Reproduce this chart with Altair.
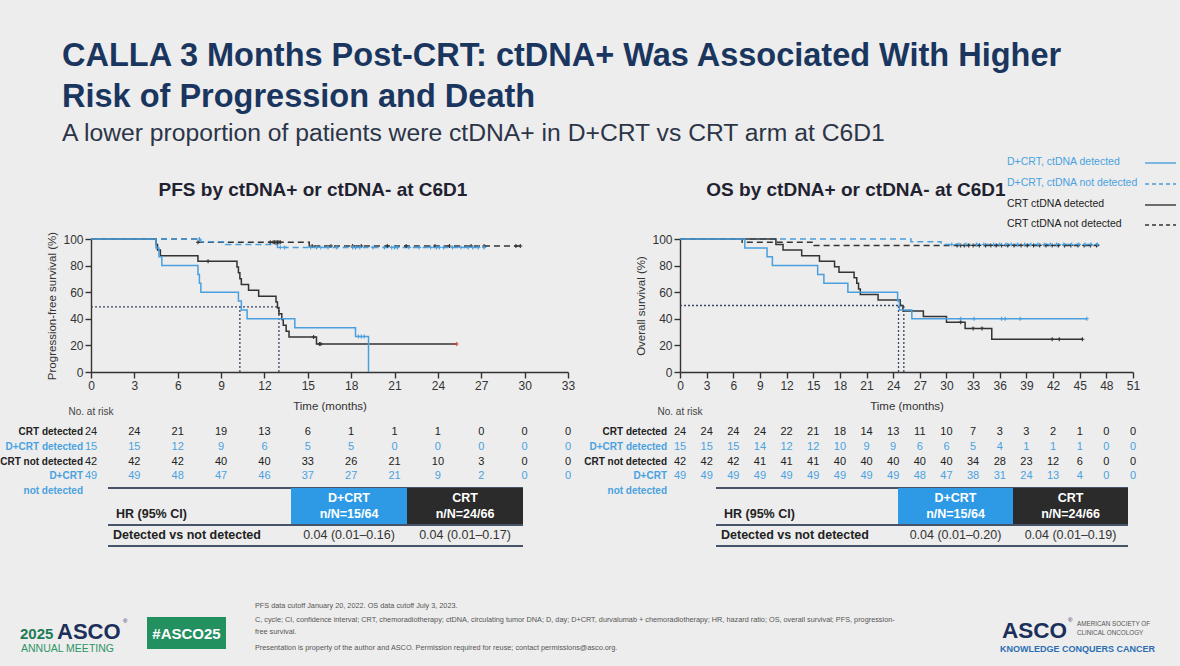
import altair as alt
import pandas as pd

W, H = 1180, 666
BG = "#ededed"
FONT = "Liberation Sans"
BLUE = "#4a9fdf"
BLUE_TXT = "#4aa2e0"
BLACK = "#333333"
NAVY = "#1a365f"
Y0, Y100 = 372, 239

# ---------------- data ----------------
PFS_TICKS = [0, 3, 6, 9, 12, 15, 18, 21, 24, 27, 30, 33]
OS_TICKS = [0, 3, 6, 9, 12, 15, 18, 21, 24, 27, 30, 33, 36, 39, 42, 45, 48, 51]
Y_TICKS = [0, 20, 40, 60, 80, 100]

# PFS curves (time in months, survival %)
pfs_crt_det_t = [0, 4.5, 4.6, 4.8, 7.4, 10.1, 10.2, 10.3, 10.4, 10.9, 11.6, 12.8, 12.9, 13.0, 13.2, 13.3, 13.5, 13.7, 15.6, 25.3]
pfs_crt_det_s = [100, 95.8, 91.7, 87.5, 83.3, 78.9, 74.6, 70.2, 65.8, 61.4, 57.0, 52.6, 48.2, 43.8, 39.5, 35.1, 30.7, 26.3, 21.0, 21.0]
pfs_dcrt_det_t = [0, 4.5, 4.7, 4.9, 7.4, 7.5, 7.6, 10.2, 10.4, 10.8, 14.1, 18.3, 19.2]
pfs_dcrt_det_s = [100, 93.3, 86.7, 80.0, 73.3, 66.7, 60.0, 53.3, 46.7, 40.0, 33.3, 26.7, 0]
pfs_crt_nd_t = [0, 7.3, 15.1, 29.8]
pfs_crt_nd_s = [100, 97.6, 94.7, 94.7]
pfs_dcrt_nd_t = [0, 7.6, 9.3, 12.9, 27.2]
pfs_dcrt_nd_s = [100, 97.9, 95.8, 93.7, 93.7]

pfs_crt_det_cens = [8.1, 15.4, 15.8, 15.9]
pfs_crt_det_last = [25.3]
pfs_dcrt_det_cens = [18.5, 18.7, 18.9]
pfs_crt_nd_cens = [7.4, 12.4, 12.6, 12.7, 12.8, 12.9, 13.0, 13.1, 15.3, 16.6, 18.1, 18.7, 20.5,
                   21.8, 23.8, 24.8, 26.3, 27.2, 29.4, 29.7]
pfs_dcrt_nd_cens = [7.5, 13.1, 13.4, 15.2, 15.6, 15.9, 16.4, 17.0, 18.1, 18.3, 18.6, 19.5, 20.3, 20.8,
                    21.0, 21.2, 22.0, 22.7, 23.5, 23.9, 24.1, 24.4, 25.0, 25.6, 26.1, 26.4, 26.8, 27.2]

# OS curves
os_crt_det_t = [0, 10.8, 11.6, 13.7, 15.7, 17.4, 17.9, 19.6, 19.9, 20.1, 20.3, 22.3, 24.8, 25.1, 27.4, 30.0, 32.1, 35.1, 45.3]
os_crt_det_s = [100, 95.8, 91.7, 87.5, 83.3, 79.2, 75.0, 70.8, 66.7, 62.5, 58.3, 54.2, 50.0, 45.8, 41.7, 37.5, 32.8, 24.6, 24.6]
os_dcrt_det_t = [0, 7.3, 9.8, 10.4, 15.5, 16.2, 18.9, 24.5, 24.7, 26.1, 45.8]
os_dcrt_det_s = [100, 93.3, 86.7, 80.0, 73.3, 66.7, 60.0, 53.3, 46.7, 40.0, 40.0]
os_crt_nd_t = [0, 7.0, 15.1, 47.2]
os_crt_nd_s = [100, 97.6, 95.2, 95.2]
os_dcrt_nd_t = [0, 26.0, 29.4, 47.1]
os_dcrt_nd_s = [100, 98.0, 95.9, 95.9]

os_crt_det_cens = [31.6, 33.0, 34.0, 41.9, 42.7, 45.3]
os_dcrt_det_cens = [31.6, 33.1, 36.2, 36.6, 38.3, 45.8]
os_crt_nd_cens = [31.2, 31.6, 32.0, 32.5, 33.0, 33.7, 34.4, 35.0, 35.6, 36.2, 36.9, 37.6, 38.4, 39.1,
                  39.8, 40.5, 41.2, 41.9, 42.6, 43.3, 44.0, 44.8, 45.5, 46.2, 46.9]
os_dcrt_nd_cens = [30.6, 31.4, 32.2, 33.4, 34.2, 35.3, 36.0, 36.7, 37.3, 38.0, 38.8, 39.5, 40.3, 41.0,
                   41.7, 42.4, 43.2, 44.1, 44.9, 45.6, 46.3, 47.0]

# medians
pfs_med_y, pfs_med_t = 49, [10.3, 13.0]
os_med_y, os_med_t = 50, [24.6, 25.2]

# numbers at risk
pfs_risk = {
    "crt_det": [24, 24, 21, 19, 13, 6, 1, 1, 1, 0, 0, 0],
    "dcrt_det": [15, 15, 12, 9, 6, 5, 5, 0, 0, 0, 0, 0],
    "crt_nd": [42, 42, 42, 40, 40, 33, 26, 21, 10, 3, 0, 0],
    "dcrt_nd": [49, 49, 48, 47, 46, 37, 27, 21, 9, 2, 0, 0],
}
os_risk = {
    "crt_det": [24, 24, 24, 24, 22, 21, 18, 14, 13, 11, 10, 7, 3, 3, 2, 1, 0, 0],
    "dcrt_det": [15, 15, 15, 14, 12, 12, 10, 9, 9, 6, 6, 5, 4, 1, 1, 1, 0, 0],
    "crt_nd": [42, 42, 42, 41, 41, 41, 40, 40, 40, 40, 40, 34, 28, 23, 12, 6, 0, 0],
    "dcrt_nd": [49, 49, 49, 49, 49, 49, 49, 49, 49, 48, 47, 38, 31, 24, 13, 4, 0, 0],
}
risk_labels = ["CRT detected", "D+CRT detected", "CRT not detected", "D+CRT"]
risk_keys = ["crt_det", "dcrt_det", "crt_nd", "dcrt_nd"]

hr_pfs = ["0.04 (0.01\u20130.16)", "0.04 (0.01\u20130.17)"]
hr_os = ["0.04 (0.01\u20130.20)", "0.04 (0.01\u20130.19)"]
arm_names = ["D+CRT", "CRT"]
arm_nN = ["n/N=15/64", "n/N=24/66"]

legend_labels = ["D+CRT, ctDNA detected", "D+CRT, ctDNA not detected", "CRT ctDNA detected", "CRT ctDNA not detected"]

# ---------------- helpers ----------------
one = pd.DataFrame({"k": [0]})
layers = []

STYLE = {
    "dcrt_det": (BLUE, None),
    "dcrt_nd": (BLUE, [6, 4]),
    "crt_det": (BLACK, None),
    "crt_nd": (BLACK, [6, 4]),
}

PANELS = {
    "pfs": dict(xmax=33, xr=[91, 568], ticks=PFS_TICKS, ytitle="Progression-free survival (%)"),
    "os": dict(xmax=51, xr=[680, 1133], ticks=OS_TICKS, ytitle="Overall survival (%)"),
}


def xs(p):
    P = PANELS[p]
    return alt.Scale(domain=[0, P["xmax"]], range=P["xr"], nice=False, zero=False)


def ys():
    return alt.Scale(domain=[0, 100], range=[Y0, Y100], nice=False, zero=False)


def T(s, x, y, size=11, color="#222", weight="normal", align="left", baseline="middle", angle=None, font=FONT):
    mk = dict(text=s, fontSize=size, color=color, fontWeight=weight, align=align, baseline=baseline, font=font)
    if angle is not None:
        mk["angle"] = angle
    return alt.Chart(one).mark_text(**mk).encode(x=alt.value(x), y=alt.value(y))


def R(x1, x2, y1, y2, color, width=1.0, dash=None):
    mk = dict(color=color, strokeWidth=width)
    if dash:
        mk["strokeDash"] = dash
    return alt.Chart(one).mark_rule(**mk).encode(x=alt.value(x1), x2=alt.value(x2), y=alt.value(y1), y2=alt.value(y2))


def BOX(x1, x2, y1, y2, color):
    return alt.Chart(one).mark_rect(color=color).encode(x=alt.value(x1), x2=alt.value(x2), y=alt.value(y1), y2=alt.value(y2))


def surv_at(ts, ss, t):
    v = ss[0]
    for a, b in zip(ts, ss):
        if a <= t:
            v = b
    return v


def curve(p, key, ts, ss):
    col, dash = STYLE[key]
    mk = dict(interpolate="step-after", color=col, strokeWidth=1.5)
    if dash:
        mk["strokeDash"] = dash
    df = pd.DataFrame({"t": ts, "s": ss})
    return alt.Chart(df).mark_line(**mk).encode(
        x=alt.X("t:Q", scale=xs(p), axis=None),
        y=alt.Y("s:Q", scale=ys(), axis=None),
    )


def censors(p, ts, ss, cens, color):
    df = pd.DataFrame({"t": cens, "s": [surv_at(ts, ss, c) for c in cens]})
    return alt.Chart(df).mark_point(shape="M-1,0L1,0M0,-1L0,1", size=16, filled=False,
                                    strokeWidth=1.1, color=color, opacity=1).encode(
        x=alt.X("t:Q", scale=xs(p), axis=None),
        y=alt.Y("s:Q", scale=ys(), axis=None),
    )


def medians(p, my, mts):
    h = pd.DataFrame({"t0": [0], "t1": [max(mts)], "s": [my]})
    v = pd.DataFrame({"t": mts, "s0": [0] * len(mts), "s1": [my] * len(mts)})
    mk = dict(color="#3b4663", strokeWidth=1.3, strokeDash=[2, 2])
    a = alt.Chart(h).mark_rule(**mk).encode(
        x=alt.X("t0:Q", scale=xs(p), axis=None), x2="t1:Q",
        y=alt.Y("s:Q", scale=ys(), axis=None))
    b = alt.Chart(v).mark_rule(**mk).encode(
        x=alt.X("t:Q", scale=xs(p), axis=None),
        y=alt.Y("s0:Q", scale=ys(), axis=None), y2="s1:Q")
    return [a, b]


def axis_layer(p):
    P = PANELS[p]
    d = pd.DataFrame({"t": [0, P["xmax"]], "s": [0, 100]})
    common = dict(domainColor="#333", domainWidth=1.4, tickColor="#333", tickWidth=1.4, tickSize=6,
                  labelFont=FONT, labelFontSize=12, labelColor="#333", titleFont=FONT, titleFontSize=11.5,
                  titleFontWeight="normal", titleColor="#333", grid=False, labelFlush=False,
                  labelOverlap=False, labelPadding=2)
    return alt.Chart(d).mark_point(opacity=0).encode(
        x=alt.X("t:Q", scale=xs(p), axis=alt.Axis(orient="bottom", offset=Y0 - H, values=P["ticks"], format="d",
                                                  title="Time (months)", titlePadding=9, **common)),
        y=alt.Y("s:Q", scale=ys(), axis=alt.Axis(orient="left", offset=-P["xr"][0], values=Y_TICKS, format="d",
                                                 title=P["ytitle"], titlePadding=5, **common)),
    )


def risk_table(p, risk, label_x):
    P = PANELS[p]
    rows_y = [432, 447, 462, 476]
    out = []
    for lab, key, y in zip(risk_labels, risk_keys, rows_y):
        col = BLUE_TXT if key.startswith("dcrt") else "#222"
        out.append(T(lab, label_x, y, size=10, color=col, weight="bold", align="right"))
        df = pd.DataFrame({"t": P["ticks"], "n": risk[key]})
        out.append(alt.Chart(df).mark_text(fontSize=11, color=col, font=FONT, align="center", baseline="middle").encode(
            x=alt.X("t:Q", scale=xs(p), axis=None), y=alt.value(y), text=alt.Text("n:Q", format="d")))
    out.append(T("not detected", label_x, 491, size=10, color=BLUE_TXT, weight="bold", align="right"))
    out.append(T("No. at risk", (P["xr"][0]), 412, size=10, color="#444", align="center"))
    return out


def hr_table(x0, bx, bw, hrs):
    out = []
    x_end = bx + 2 * bw
    out.append(R(x0, x_end, 488, 488, "#46546a", 2))
    out.append(BOX(bx, bx + bw, 488, 524, "#2e9ae6"))
    out.append(BOX(bx + bw, x_end, 488, 524, "#2b2b2b"))
    for i in range(2):
        cx = bx + bw * i + bw / 2
        out.append(T(arm_names[i], cx, 498, size=12.5, color="white", weight="bold", align="center"))
        out.append(T(arm_nN[i], cx, 514, size=12.5, color="white", weight="bold", align="center"))
        out.append(T(hrs[i], cx, 535, size=12.5, color="#333", align="center"))
    out.append(T("HR (95% CI)", x0 + 8, 514, size=12.5, color="#222", weight="bold"))
    out.append(R(x0, x_end, 525, 525, "#46546a", 2))
    out.append(T("Detected vs not detected", x0 + 5, 535, size=12.5, color="#222", weight="bold"))
    out.append(R(x0, x_end, 546, 546, "#46546a", 2))
    return out


# ---------------- build ----------------
# Titles
layers.append(T("CALLA 3 Months Post-CRT: ctDNA+ Was Associated With Higher", 62, 56, size=32.5, color=NAVY, weight="bold"))
layers.append(T("Risk of Progression and Death", 62, 97, size=32.5, color=NAVY, weight="bold"))
layers.append(T("A lower proportion of patients were ctDNA+ in D+CRT vs CRT arm at C6D1", 62, 134, size=24.7, color="#2c3548"))
layers.append(T("PFS by ctDNA+ or ctDNA- at C6D1", 313, 190, size=19, color="#1f2230", weight="bold", align="center"))
layers.append(T("OS by ctDNA+ or ctDNA- at C6D1", 856, 190, size=19, color="#1f2230", weight="bold", align="center"))

# Legend
leg_y = [162, 183, 204, 224]
leg_col = [BLUE_TXT, BLUE_TXT, "#222", "#222"]
for lab, y, c, key in zip(legend_labels, leg_y, leg_col, ["dcrt_det", "dcrt_nd", "crt_det", "crt_nd"]):
    layers.append(T(lab, 1007, y, size=10.5, color=c))
    col, dash = STYLE[key]
    layers.append(R(1145, 1176, y + 1, y + 1, col, 1.4, [4, 3] if dash else None))

# Axes
layers.append(axis_layer("pfs"))
layers.append(axis_layer("os"))

# PFS curves
layers += medians("pfs", pfs_med_y, pfs_med_t)
layers.append(curve("pfs", "crt_nd", pfs_crt_nd_t, pfs_crt_nd_s))
layers.append(curve("pfs", "dcrt_nd", pfs_dcrt_nd_t, pfs_dcrt_nd_s))
layers.append(curve("pfs", "crt_det", pfs_crt_det_t, pfs_crt_det_s))
layers.append(curve("pfs", "dcrt_det", pfs_dcrt_det_t, pfs_dcrt_det_s))
layers.append(censors("pfs", pfs_crt_nd_t, pfs_crt_nd_s, pfs_crt_nd_cens, BLACK))
layers.append(censors("pfs", pfs_dcrt_nd_t, pfs_dcrt_nd_s, pfs_dcrt_nd_cens, BLUE))
layers.append(censors("pfs", pfs_crt_det_t, pfs_crt_det_s, pfs_crt_det_cens, BLACK))
layers.append(censors("pfs", pfs_crt_det_t, pfs_crt_det_s, pfs_crt_det_last, "#e0453a"))
layers.append(censors("pfs", pfs_dcrt_det_t, pfs_dcrt_det_s, pfs_dcrt_det_cens, BLUE))

# OS curves
layers += medians("os", os_med_y, os_med_t)
layers.append(curve("os", "crt_nd", os_crt_nd_t, os_crt_nd_s))
layers.append(curve("os", "dcrt_nd", os_dcrt_nd_t, os_dcrt_nd_s))
layers.append(curve("os", "crt_det", os_crt_det_t, os_crt_det_s))
layers.append(curve("os", "dcrt_det", os_dcrt_det_t, os_dcrt_det_s))
layers.append(censors("os", os_crt_nd_t, os_crt_nd_s, os_crt_nd_cens, BLACK))
layers.append(censors("os", os_dcrt_nd_t, os_dcrt_nd_s, os_dcrt_nd_cens, BLUE))
layers.append(censors("os", os_crt_det_t, os_crt_det_s, os_crt_det_cens, BLACK))
layers.append(censors("os", os_dcrt_det_t, os_dcrt_det_s, os_dcrt_det_cens, BLUE))

# Risk tables
layers += risk_table("pfs", pfs_risk, 83)
layers += risk_table("os", os_risk, 667)

# HR tables
layers += hr_table(108, 291, 116, hr_pfs)
layers += hr_table(716, 898, 115, hr_os)

# Footer
layers.append(T("2025", 20, 634, size=15, color="#1d7a56", weight="bold"))
layers.append(T("ASCO", 57, 632, size=22, color="#1c2f5a", weight="bold"))
layers.append(T("\u00ae", 123, 621, size=6, color="#1c2f5a"))
layers.append(T("ANNUAL MEETING", 21, 649, size=10.5, color="#2f9468"))
layers.append(BOX(147, 226, 617, 649, "#22905f"))
layers.append(T("#ASCO25", 186.5, 634, size=15, color="white", weight="bold", align="center"))
foot = [
    (606, "PFS data cutoff January 20, 2022. OS data cutoff July 3, 2023."),
    (620, "C, cycle; CI, confidence interval; CRT, chemoradiotherapy; ctDNA, circulating tumor DNA; D, day; D+CRT, durvalumab + chemoradiotherapy; HR, hazard ratio; OS, overall survival; PFS, progression-"),
    (632, "free survival."),
    (648, "Presentation is property of the author and ASCO. Permission required for reuse; contact permissions@asco.org."),
]
for y, s in foot:
    layers.append(T(s, 255, y, size=7.3, color="#555"))
layers.append(T("ASCO", 1002, 631, size=22.5, color="#1c2f5a", weight="bold"))
layers.append(T("\u00ae", 1068, 620, size=6, color="#1c2f5a"))
layers.append(T("AMERICAN SOCIETY OF", 1077, 624, size=6.3, color="#555"))
layers.append(T("CLINICAL ONCOLOGY", 1077, 633, size=6.3, color="#555"))
layers.append(T("KNOWLEDGE CONQUERS CANCER", 1000, 649, size=9, color="#2a6db3", weight="bold"))

chart = alt.layer(*layers).resolve_scale(x="independent", y="independent").properties(
    width=W, height=H, background=BG, padding=0, autosize=alt.AutoSizeParams(type="none")
).configure_view(strokeWidth=0)

chart.save("out.html", embed_options={"renderer": "svg", "actions": False})
